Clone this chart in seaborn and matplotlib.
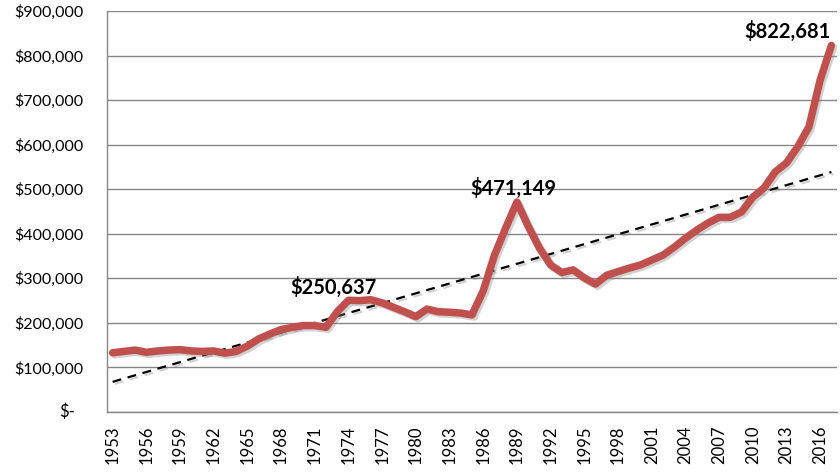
import matplotlib
matplotlib.use("Agg")
import matplotlib.pyplot as plt
import matplotlib.patheffects as pe
from matplotlib.ticker import FuncFormatter, MultipleLocator
import seaborn as sns
import pandas as pd
import numpy as np

years = list(range(1953, 2018))
prices = [133000, 136000, 139000, 134000, 137000, 139000, 140000, 137000, 136000, 137000,
          132000, 136000, 148000, 164000, 175000, 185000, 190000, 194000, 194000, 190000,
          225000, 250637, 250000, 252000, 245000, 235000, 225000, 214000, 231000, 225000,
          224000, 222000, 218000, 272000, 352000, 413000, 471149, 417000, 368000, 330000,
          313000, 319000, 301000, 287000, 307000, 315000, 323000, 330000, 341000, 352000,
          370000, 390000, 408000, 424000, 437000, 437000, 449000, 482000, 503000, 539000,
          559000, 595000, 640000, 745000, 822681]
label_years = [1974, 1989, 2017]
label_offsets_px = [(-15, 6), (-4, 7), (-44, 7)]
tick_years = list(range(1953, 2017, 3))

df = pd.DataFrame({"year": years, "price": prices})

sns.set_theme(style="white")
plt.rcParams['font.family'] = ['Lato', 'DejaVu Sans']

fig = plt.figure(figsize=(8.4, 4.74), dpi=100)
ax = fig.add_axes([107/840, 62/474, 730/840, 401/474])

shadow = [pe.SimpleLineShadow(offset=(1.5, -1.5), shadow_color='gray', alpha=0.35), pe.Normal()]

sns.regplot(data=df, x="year", y="price", scatter=False, ci=None, ax=ax,
            line_kws=dict(color='black', lw=1.6, ls=(0, (4, 3)), path_effects=shadow, zorder=3))
sns.lineplot(data=df, x="year", y="price", ax=ax, color='#C0504D', lw=5.4,
             solid_joinstyle='round', solid_capstyle='round', path_effects=shadow, zorder=4)

for yr, (dx, dy) in zip(label_years, label_offsets_px):
    v = prices[years.index(yr)]
    ax.annotate(f"${v:,.0f}", xy=(yr, v), xytext=(dx, dy), textcoords='offset pixels',
                ha='center', va='baseline', fontsize=14.5, fontweight='bold', color='black',
                zorder=5)

ax.set_xlim(1952.5, 2017.5)
ax.set_ylim(0, 900000)
ax.yaxis.set_major_locator(MultipleLocator(100000))
ax.yaxis.set_major_formatter(FuncFormatter(lambda v, p: "" if v == 0 else f"${v:,.0f}"))
ax.annotate("$-", xy=(0, 0), xycoords=('axes fraction', 'data'), xytext=(-32, 0),
            textcoords='offset pixels', ha='right', va='center', fontsize=12, color='black')
ax.set_xticks(tick_years)
ax.set_xticklabels([str(t) for t in tick_years], rotation=90)
ax.tick_params(axis='both', length=0, labelsize=12, colors='black')
ax.tick_params(axis='y', labelsize=11.5, pad=17)
ax.tick_params(axis='x', pad=10)
ax.grid(axis='y', color='#868686', lw=1)
ax.set_axisbelow(True)
for s in ['top', 'right']:
    ax.spines[s].set_visible(False)
for s in ['left', 'bottom']:
    ax.spines[s].set_color('#868686')
    ax.spines[s].set_linewidth(1)
ax.set_xlabel("")
ax.set_ylabel("")

fig.savefig("out.png", dpi=100)
